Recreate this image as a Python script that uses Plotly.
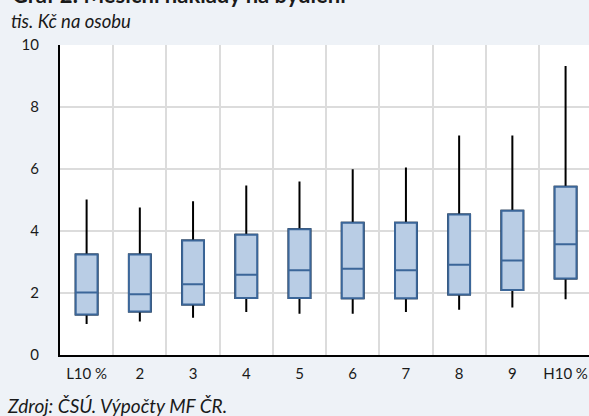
import plotly.graph_objects as go

categories = ["L10\u202f%", "2", "3", "4", "5", "6", "7", "8", "9", "H10\u202f%"]
whisker_low = [1.00, 1.08, 1.20, 1.39, 1.33, 1.33, 1.39, 1.46, 1.53, 1.80]
q1 = [1.31, 1.40, 1.63, 1.84, 1.84, 1.83, 1.83, 1.95, 2.10, 2.47]
median = [2.02, 1.96, 2.28, 2.59, 2.73, 2.78, 2.73, 2.91, 3.05, 3.57]
q3 = [3.24, 3.24, 3.69, 3.88, 4.06, 4.27, 4.27, 4.53, 4.65, 5.43]
whisker_high = [5.02, 4.76, 4.96, 5.47, 5.60, 5.99, 6.05, 7.08, 7.08, 9.32]
y_ticks = [0, 2, 4, 6, 8, 10]

xpos = list(range(len(categories)))
FONT = "Lato, 'Open Sans', sans-serif"
BOX_FILL = "#B9CDE5"
BOX_LINE = "#3B6699"

fig = go.Figure()
# whiskers (black)
fig.add_trace(go.Box(
    x=xpos, q1=q1, median=median, q3=q3,
    lowerfence=whisker_low, upperfence=whisker_high,
    width=0.41, whiskerwidth=0,
    line=dict(color="black", width=2), fillcolor=BOX_FILL,
    showlegend=False, hoverinfo="skip",
))
# boxes (blue outline)
fig.add_trace(go.Box(
    x=xpos, q1=q1, median=median, q3=q3,
    lowerfence=q1, upperfence=q3,
    width=0.41, whiskerwidth=0,
    line=dict(color=BOX_LINE, width=2), fillcolor=BOX_FILL,
    showlegend=False, hoverinfo="skip",
))

fig.update_layout(
    width=589, height=416,
    margin=dict(l=60, r=0, t=45, b=61, autoexpand=False),
    paper_bgcolor="#EEF2F7", plot_bgcolor="white",
    boxmode="overlay",
    font=dict(family=FONT, size=14, color="#1a1a1a"),
    xaxis=dict(
        range=[-0.5, 9.44], tickmode="array", tickvals=xpos, ticktext=categories,
        showgrid=False, zeroline=False, ticks="", automargin=False,
        showline=True, linecolor="black", linewidth=2,
        ticklabelstandoff=4, tickfont=dict(size=15),
        minor=dict(tickmode="array", tickvals=[i + 0.5 for i in xpos[:-1]],
                   showgrid=True, gridcolor="#DCDCDC", gridwidth=2, ticks=""),
    ),
    yaxis=dict(
        range=[0, 10], tickmode="array", tickvals=y_ticks, automargin=False,
        showgrid=True, gridcolor="#DCDCDC", gridwidth=2, zeroline=False,
        showline=True, linecolor="black", linewidth=2, ticks="",
        ticklabelstandoff=16, tickfont=dict(size=15),
    ),
    annotations=[
        dict(text="<b>Graf 2: Měsíční náklady na bydlení</b>", xref="paper", yref="paper",
             x=-60/529 + 10/529, y=(355 - 10) / 310, xanchor="left", yanchor="bottom",
             showarrow=False, font=dict(family=FONT, size=22, color="#1a1a1a")),
        dict(text="<i>tis. Kč na osobu</i>", xref="paper", yref="paper",
             x=-60/529 + 9/529, y=(355 - 21) / 310, xanchor="left", yanchor="middle",
             showarrow=False, font=dict(family=FONT, size=18.5, color="#1a1a1a")),
        dict(text="<i>Zdroj: ČSÚ. Výpočty MF ČR.</i>", xref="paper", yref="paper",
             x=-60/529 + 5/529, y=(355 - 405) / 310, xanchor="left", yanchor="middle",
             showarrow=False, font=dict(family=FONT, size=19, color="#1a1a1a")),
    ],
)

fig.write_html(
    "out.html",
    config={"displayModeBar": False},
    post_script="document.body.style.margin='0';document.body.style.padding='0';"
                "document.body.style.overflow='hidden';",
)
